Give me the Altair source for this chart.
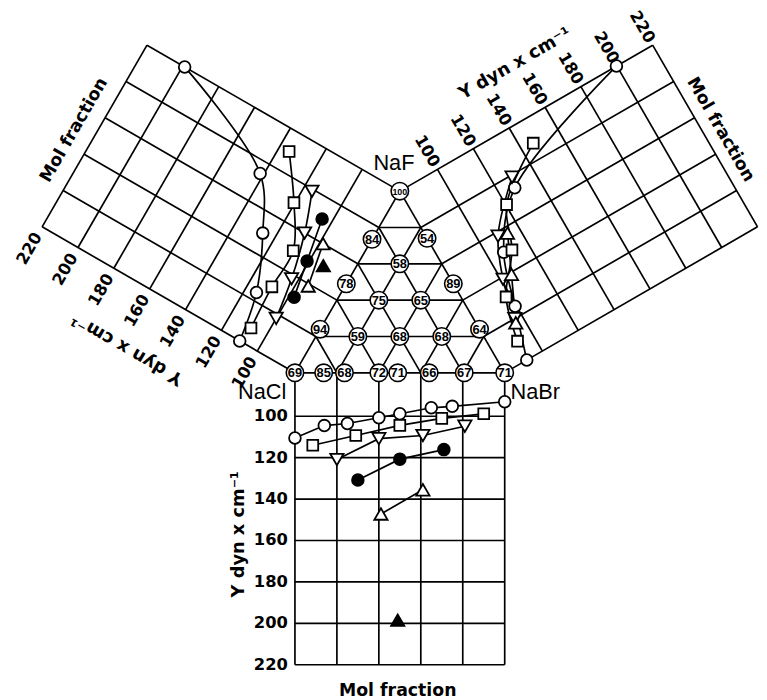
import altair as alt
import numpy as np
import pandas as pd

# ---------------- data ----------------
Y_TICKS = [100, 120, 140, 160, 180, 200, 220]
FRAC_GRID = [0.0, 0.2, 0.4, 0.6, 0.8, 1.0]
TERN_GRID = [0.2, 0.4, 0.6, 0.8]

# Bottom panel: mol fraction NaBr, NaCl (0) -> NaBr (1)
bot_circle_f = [0.0, 0.14, 0.25, 0.40, 0.50, 0.65, 0.75, 1.0]
bot_circle_y = [110.5, 104.5, 103.5, 100.7, 98.8, 95.9, 95.2, 93.0]
bot_square_f = [0.085, 0.29, 0.50, 0.70, 0.90]
bot_square_y = [114.0, 109.3, 104.4, 101.0, 98.8]
bot_tridown_f = [0.20, 0.40, 0.61, 0.81]
bot_tridown_y = [120.9, 110.8, 109.3, 104.8]
bot_dot_f = [0.30, 0.50, 0.71]
bot_dot_y = [130.8, 120.7, 116.1]
bot_triup_f = [0.41, 0.61]
bot_triup_y = [147.2, 135.5]
bot_filltri_f = [0.49]
bot_filltri_y = [198.5]

# Left panel: mol fraction NaF, NaCl (0) -> NaF (1)
left_circle_f = [0.0, 0.24, 0.50, 0.74, 1.0]
left_circle_y = [109.8, 114.5, 126.2, 141.7, 199.0]
left_square_f = [0.08, 0.30, 0.50, 0.70, 0.90]
left_square_y = [108.2, 109.4, 109.2, 120.5, 134.9]
left_tridown_f = [0.18, 0.38, 0.60, 0.79]
left_tridown_y = [100.0, 103.1, 108.7, 115.7]
left_dot_f = [0.31, 0.49, 0.70]
left_dot_y = [97.6, 100.9, 104.8]
left_triup_f = [0.39, 0.60]
left_triup_y = [94.4, 98.4]
left_filltri_f = [0.51]
left_filltri_y = [93.0]

# Right panel: mol fraction NaF, NaBr (0) -> NaF (1)
right_circle_f = [0.0, 0.25, 0.50, 0.74, 1.0]
right_circle_y = [91.3, 99.4, 107.7, 127.9, 199.8]
right_square_f = [0.10, 0.31, 0.49, 0.69, 0.88]
right_square_y = [92.0, 97.9, 111.7, 120.4, 146.4]
right_tridown_f = [0.20, 0.39, 0.58, 0.79]
right_tridown_y = [96.3, 100.9, 109.2, 129.3]
right_triup_f = [0.18, 0.39, 0.57]
right_triup_y = [95.7, 105.6, 113.9]

# Ternary composition labels (fraction NaF, fraction NaBr; rest NaCl)
tern_label = ["100", "84", "54", "58", "78", "89", "75", "65", "94", "64",
              "59", "68", "68", "69", "85", "68", "72", "71", "66", "67", "71"]
tern_naf = [1.0, 0.735, 0.74, 0.6, 0.49, 0.49, 0.4, 0.4, 0.24, 0.24,
            0.2, 0.2, 0.2, 0.0, 0.0, 0.0, 0.0, 0.0, 0.0, 0.0, 0.0]
tern_nabr = [0.0, 0.0, 0.26, 0.2, 0.0, 0.51, 0.2, 0.4, 0.0, 0.76,
             0.2, 0.4, 0.6, 0.0, 0.137, 0.236, 0.4, 0.49, 0.64, 0.807, 1.0]

# ---------------- geometry ----------------
H = np.sqrt(3) / 2
Y0 = 79.0          # surface tension at the triangle edge
K = 0.00987        # side lengths per dyn/cm
PX = 212.0         # pixels per triangle side
W, HT = 759, 692
XMIN = -290 / PX
XMAX = XMIN + W / PX
YMAX = 365 / PX
YMIN = YMAX - HT / PX


def panel_xy(panel, f, yv):
    d = K * (yv - Y0)
    if panel == "bottom":
        return f, -d
    if panel == "left":
        return 0.5 * f - H * d, H * f + 0.5 * d
    return 1 - 0.5 * f + H * d, H * f + 0.5 * d


def tern_xy(a, c):
    return 0.5 * a + c, H * a


# grid segments
segs = []
for panel in ["bottom", "left", "right"]:
    for f in FRAC_GRID:
        x1, y1 = panel_xy(panel, f, Y0)
        x2, y2 = panel_xy(panel, f, 220)
        segs.append((x1, y1, x2, y2))
    for yv in [Y0] + Y_TICKS:
        x1, y1 = panel_xy(panel, 0, yv)
        x2, y2 = panel_xy(panel, 1, yv)
        segs.append((x1, y1, x2, y2))
for t in TERN_GRID:
    segs.append(tern_xy(t, 0) + tern_xy(t, 1 - t))
    segs.append(tern_xy(0, t) + tern_xy(1 - t, t))
    segs.append(tern_xy(0, 1 - t) + tern_xy(1 - t, 0))
seg_df = pd.DataFrame(segs, columns=["x", "y", "x2", "y2"])

STYLE = {
    "circle": ("circle", "white", 140),
    "square": ("square", "white", 120),
    "tridown": ("triangle-down", "white", 180),
    "dot": ("circle", "black", 140),
    "triup": ("triangle-up", "white", 180),
    "filltri": ("triangle-up", "black", 180),
}
series = [
    ("bottom", "circle", bot_circle_f, bot_circle_y),
    ("bottom", "square", bot_square_f, bot_square_y),
    ("bottom", "tridown", bot_tridown_f, bot_tridown_y),
    ("bottom", "dot", bot_dot_f, bot_dot_y),
    ("bottom", "triup", bot_triup_f, bot_triup_y),
    ("bottom", "filltri", bot_filltri_f, bot_filltri_y),
    ("left", "circle", left_circle_f, left_circle_y),
    ("left", "square", left_square_f, left_square_y),
    ("left", "tridown", left_tridown_f, left_tridown_y),
    ("left", "dot", left_dot_f, left_dot_y),
    ("left", "triup", left_triup_f, left_triup_y),
    ("left", "filltri", left_filltri_f, left_filltri_y),
    ("right", "circle", right_circle_f, right_circle_y),
    ("right", "square", right_square_f, right_square_y),
    ("right", "tridown", right_tridown_f, right_tridown_y),
    ("right", "triup", right_triup_f, right_triup_y),
]
rows = []
for panel, key, fs, ys in series:
    shape, fill, size = STYLE[key]
    for i, (f, yv) in enumerate(zip(fs, ys)):
        x, y = panel_xy(panel, f, yv)
        rows.append(dict(x=x, y=y, grp=panel + "_" + key, ord=i, panel=panel,
                         shape=shape, fill=fill, size=size))
pts = pd.DataFrame(rows)
bot_lines = pts[pts.panel == "bottom"]
side_lines = pts[pts.panel != "bottom"]

tern_rows = []
for lab, a, c in zip(tern_label, tern_naf, tern_nabr):
    x, y = tern_xy(a, c)
    tern_rows.append(dict(x=x, y=y, text=lab, fs=9 if lab == "100" else 13))
tern_df = pd.DataFrame(tern_rows)

# axis texts
TITLE = "Y dyn x cm\u207b\u00b9"
txt = []
for yv in Y_TICKS:
    x, y = panel_xy("bottom", -0.115, yv)
    txt.append(dict(x=x, y=y, text=str(yv), angle=0, fs=16.5))
    x, y = panel_xy("left", -0.12, yv)
    txt.append(dict(x=x, y=y, text=str(yv), angle=300, fs=16.5))
    x, y = panel_xy("right", 1.10, yv)
    txt.append(dict(x=x, y=y, text=str(yv), angle=60, fs=16.5))
for panel, f, yv, ang in [("bottom", -0.268, 157, 270), ("left", -0.30, 155, 210),
                          ("right", 1.25, 158, 330)]:
    x, y = panel_xy(panel, f, yv)
    txt.append(dict(x=x, y=y, text=TITLE, angle=ang, fs=18))
for panel, f, yv, ang in [("bottom", 0.49, 232.5, 0), ("left", 0.475, 230, 300),
                          ("right", 0.49, 228, 60)]:
    x, y = panel_xy(panel, f, yv)
    txt.append(dict(x=x, y=y, text="Mol  fraction", angle=ang, fs=17.5))
txt_df = pd.DataFrame(txt)

salt_name = ["NaF", "NaCl", "NaBr"]
salt_x = [0.472, -0.156, 1.146]
salt_y = [1.0, -0.09, -0.09]
salt_df = pd.DataFrame(dict(x=salt_x, y=salt_y, text=salt_name))

# ---------------- chart ----------------
XS = alt.Scale(domain=[XMIN, XMAX], nice=False, zero=False)
YS = alt.Scale(domain=[YMIN, YMAX], nice=False, zero=False)
ex = alt.X("x:Q", scale=XS, axis=None)
ey = alt.Y("y:Q", scale=YS, axis=None)

grid = alt.Chart(seg_df).mark_rule(color="black", strokeWidth=1.7).encode(
    x=ex, y=ey, x2="x2:Q", y2="y2:Q")

line_b = alt.Chart(bot_lines).mark_line(color="black", strokeWidth=1.7).encode(
    x=ex, y=ey, detail="grp:N", order="ord:Q")
line_s = alt.Chart(side_lines).mark_line(
    color="black", strokeWidth=1.7, interpolate="catmull-rom").encode(
    x=ex, y=ey, detail="grp:N", order="ord:Q")

marks = alt.Chart(pts).mark_point(stroke="black", strokeWidth=1.8, opacity=1,
                                  fillOpacity=1, filled=True).encode(
    x=ex, y=ey,
    shape=alt.Shape("shape:N", scale=None),
    fill=alt.Fill("fill:N", scale=None),
    size=alt.Size("size:Q", scale=None),
)

tern_c = alt.Chart(tern_df).mark_point(shape="circle", size=310, fill="white",
                                       filled=True, stroke="black",
                                       strokeWidth=1.6, opacity=1).encode(x=ex, y=ey)
tern_t = alt.Chart(tern_df).mark_text(font="Liberation Sans", fontWeight="bold",
                                      color="black", align="center",
                                      baseline="middle", dy=0.5).encode(
    x=ex, y=ey, text="text:N", size=alt.Size("fs:Q", scale=None))

axis_t = alt.Chart(txt_df).mark_text(font="DejaVu Sans", fontWeight="bold",
                                     color="black",
                                     align="center", baseline="middle").encode(
    x=ex, y=ey, text="text:N", angle=alt.Angle("angle:Q", scale=None),
    size=alt.Size("fs:Q", scale=None))

salt_t = alt.Chart(salt_df).mark_text(
    font="Liberation Sans", fontSize=22, color="black",
    align="center", baseline="middle").encode(
    x=ex, y=ey, text="text:N")

chart = alt.layer(grid, line_b, line_s, marks, tern_c, tern_t, axis_t, salt_t).properties(
    width=W, height=HT, padding=0,
    autosize=alt.AutoSizeParams(type="none"),
    background="white",
).configure_view(stroke=None)

chart.save("out.html", embed_options={"renderer": "svg", "actions": False})
